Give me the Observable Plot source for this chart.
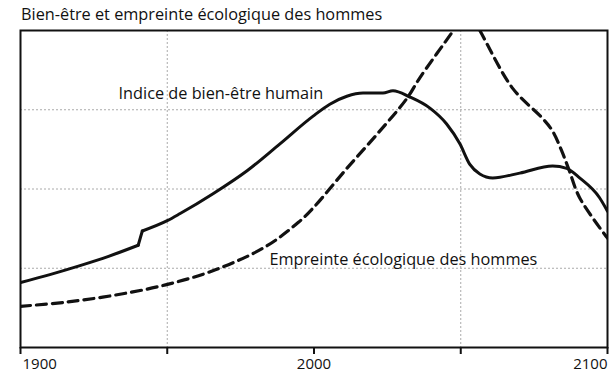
<!DOCTYPE html>
<html>
<head>
<meta charset="utf-8">
<script src="https://cdn.jsdelivr.net/npm/d3@7"></script>
<script src="https://cdn.jsdelivr.net/npm/@observablehq/plot@0.6"></script>
<style>
  html, body { margin: 0; padding: 0; background: #fff; }
  #title { font-family: "Open Sans", sans-serif; font-size: 16.3px; height: 28px; line-height: 29px; padding-left: 21px; color: #111; white-space: nowrap; }
  svg { display: block; }
</style>
</head>
<body>
<div id="title">Bien-être et empreinte écologique des hommes</div>
<div id="chart"></div>
<script>
const title = "Bien-être et empreinte écologique des hommes";
const wellbeingYears  = [1900, 1910, 1920, 1930, 1940.1, 1941.5, 1950, 1954.4, 1965.6, 1977.2, 1988.4, 1999.7, 2005.4, 2011.2, 2016.7, 2023.5, 2026.9, 2032.7, 2039.5, 2045.2, 2049.7, 2053.1, 2056.5, 2060.9, 2070.1, 2081.3, 2086.1, 2090.5, 2097.3, 2100];
const wellbeingValues = [0.82, 0.92, 1.03, 1.15, 1.29, 1.47, 1.60, 1.69, 1.94, 2.23, 2.57, 2.92, 3.07, 3.17, 3.21, 3.21, 3.24, 3.16, 3.02, 2.82, 2.57, 2.31, 2.19, 2.14, 2.20, 2.29, 2.26, 2.14, 1.89, 1.72];
const jumpYear = 1941; // the step in the well-being index around 1940
const footprintYears  = [1900, 1915, 1932, 1949.4, 1966.4, 1983.4, 1994.7, 1999.7, 2011.2, 2022.4, 2031.6, 2036, 2047.5, 2052.5, 2056.5, 2067.7, 2077.9, 2081.3, 2084.4, 2087, 2090.5, 2100];
const footprintValues = [0.52, 0.57, 0.66, 0.79, 0.98, 1.27, 1.58, 1.76, 2.26, 2.73, 3.14, 3.40, 4.00, 4.26, 4.00, 3.27, 2.89, 2.73, 2.48, 2.23, 1.89, 1.38];
const majorYears = [1900, 2000, 2100];
const tickYears = [1900, 1950, 2000, 2050, 2100];
const gridYears = [1950, 2050];
const gridValues = [1, 2, 3];
const seriesLabels = ["Indice de bien-être humain", "Empreinte écologique des hommes"];
const labelPos = [{x: 1933.4, y: 3.20}, {x: 1984.8, y: 1.11}];

const wellbeing = wellbeingYears.map((x, i) => ({x, y: wellbeingValues[i], seg: x < jumpYear ? "before" : "after"}));
const before = wellbeing.filter(d => d.seg === "before");
const after = wellbeing.filter(d => d.seg === "after");
const jump = [before[before.length - 1], after[0]];
const footprint = footprintYears.map((x, i) => ({x, y: footprintValues[i]}));
const labels = seriesLabels.map((t, i) => ({t, ...labelPos[i]}));

const font = "'Open Sans', sans-serif";
const solid = {stroke: "#111", strokeWidth: 3, strokeLinejoin: "round", strokeLinecap: "round", clip: true};
const chart = Plot.plot({
  width: 616,
  height: 354,
  marginLeft: 20,
  marginRight: 9,
  marginTop: 2,
  marginBottom: 35,
  style: {fontFamily: font, fontSize: "15px", color: "#111", background: "#fff"},
  x: {domain: [1900, 2100], label: null, axis: null},
  y: {domain: [0, 4], label: null, axis: null},
  marks: [
    Plot.ruleX(gridYears, {x: d => d, stroke: "#aaa", strokeWidth: 1, strokeDasharray: "2,2"}),
    Plot.ruleY(gridValues, {y: d => d, stroke: "#aaa", strokeWidth: 1, strokeDasharray: "2,2"}),
    Plot.line(footprint, {x: "x", y: "y", curve: "catmull-rom", stroke: "#111", strokeWidth: 3.2, strokeDasharray: "10,6", clip: true}),
    Plot.line(wellbeing, {x: "x", y: "y", z: "seg", curve: "monotone-x", ...solid}),
    Plot.line(jump, {x: "x", y: "y", curve: "linear", ...solid}),
    Plot.frame({stroke: "#111", strokeWidth: 2}),
    Plot.axisX({ticks: tickYears, tickSize: 7, tickFormat: () => "", strokeWidth: 2, label: null}),
    Plot.text(majorYears.slice(0, 1), {x: d => d, text: d => String(d), frameAnchor: "bottom", dy: 21, textAnchor: "start", dx: 2, fontSize: 15}),
    Plot.text(majorYears.slice(1, 2), {x: d => d, text: d => String(d), frameAnchor: "bottom", dy: 21, textAnchor: "middle", fontSize: 15}),
    Plot.text(majorYears.slice(2, 3), {x: d => d, text: d => String(d), frameAnchor: "bottom", dy: 21, textAnchor: "end", fontSize: 15}),
    Plot.text(labels, {x: "x", y: "y", text: "t", textAnchor: "start", fontSize: 16.3})
  ]
});
document.getElementById("chart").appendChild(chart);
</script>
</body>
</html>
